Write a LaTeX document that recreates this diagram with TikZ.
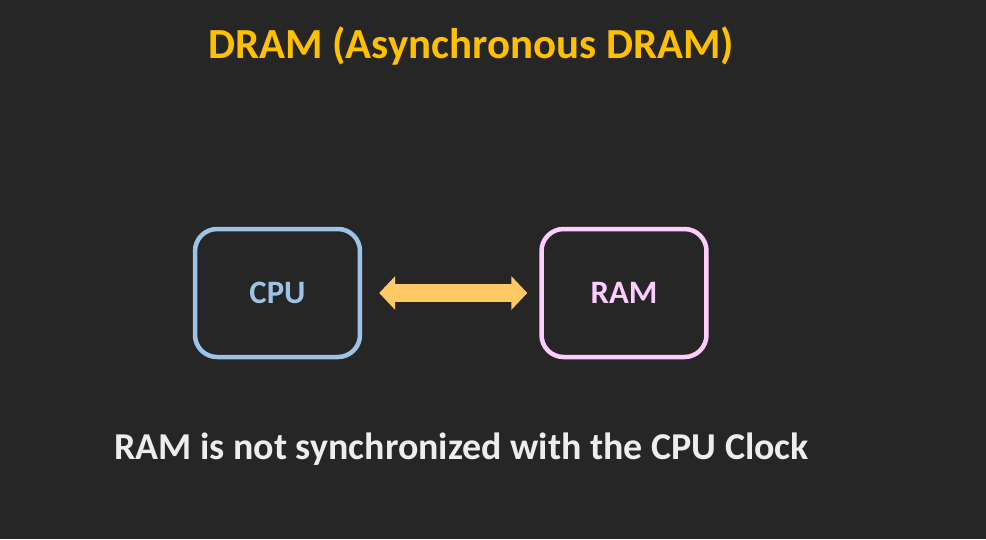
\documentclass[tikz,border=0pt]{standalone}
\usepackage{fontspec}
\setmainfont{Carlito}
\usepackage{xcolor}
\usetikzlibrary{arrows.meta}
\definecolor{bgdark}{HTML}{262626}
\definecolor{titleamber}{HTML}{FFC000}
\definecolor{cpublue}{HTML}{9DC3E6}
\definecolor{rampink}{HTML}{FFCCFF}
\definecolor{busorange}{HTML}{FFC965}
\definecolor{notegray}{HTML}{EDEDED}

\begin{document}
\begin{tikzpicture}[x=0.02cm, y=-0.02cm,
  unit/.style={draw, rounded corners=0.44cm, line width=0.09cm,
    minimum width=3.3cm, minimum height=2.56cm, align=center,
    font=\bfseries\fontsize{18.6}{22}\selectfont},
  bus/.style={{Triangle[length=0.32cm, width=0.66cm]}-{Triangle[length=0.32cm, width=0.66cm]},
    line width=0.36cm, busorange},
  heading/.style={font=\bfseries\fontsize{24.4}{29}\selectfont, text=titleamber},
  note/.style={font=\bfseries\fontsize{21.6}{26}\selectfont, text=notegray}
]
\fill[bgdark] (0,0) rectangle (986,539);
\useasboundingbox (0,0) rectangle (986,539);

% title and the two units
\node[heading] (title) at (471,46) {DRAM (Asynchronous DRAM)};
\node[unit, cpublue, text=cpublue] (cpu) at (277.5,293) {CPU};
\node[unit, rampink, text=rampink] (ram) at (624,293) {RAM};

\draw[bus, shorten <=0.34cm, shorten >=0.24cm] (cpu) -- (ram);

\node[note] (remark) at (461.5,449) {RAM is not synchronized with the CPU Clock};

\end{tikzpicture}
\end{document}
